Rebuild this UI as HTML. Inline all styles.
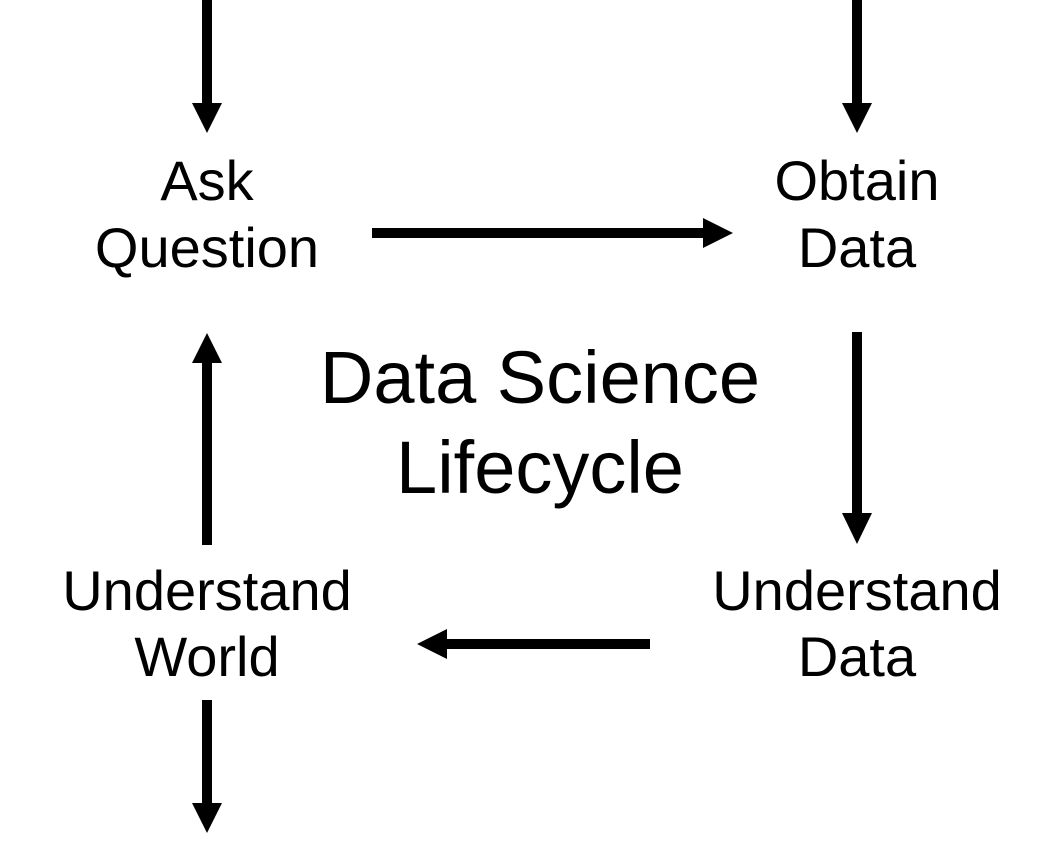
<!DOCTYPE html>
<html><head><style>
html,body{margin:0;padding:0;background:#fff;}
svg{display:block;}
text{font-family:"Liberation Sans",Arial,sans-serif;fill:#000;text-anchor:middle;}
</style></head><body>
<svg width="1062" height="866" viewBox="0 0 1062 866" xmlns="http://www.w3.org/2000/svg">
<g fill="#000">
<rect x="202" y="0" width="10" height="103"/>
<polygon points="192,103 222,103 207,133"/>
<rect x="852" y="0" width="10" height="103"/>
<polygon points="842,103 872,103 857,133"/>
<rect x="372" y="228" width="332" height="10"/>
<polygon points="703,218 733,233 703,248"/>
<rect x="852" y="332" width="10" height="182"/>
<polygon points="842,513 872,513 857,544"/>
<rect x="446" y="639" width="204" height="10"/>
<polygon points="447,629 417,644 447,659"/>
<rect x="202" y="362" width="10" height="183"/>
<polygon points="192,363 222,363 207,333"/>
<rect x="202" y="700" width="10" height="103"/>
<polygon points="192,803 222,803 207,833"/>
</g>
<text x="207" y="200" font-size="56">Ask</text>
<text x="207" y="267" font-size="56">Question</text>
<text x="857" y="200" font-size="56">Obtain</text>
<text x="857" y="267" font-size="56">Data</text>
<text x="207" y="610" font-size="56">Understand</text>
<text x="207" y="676" font-size="56">World</text>
<text x="857" y="610" font-size="56">Understand</text>
<text x="857" y="676" font-size="56">Data</text>
<text x="540" y="403" font-size="74">Data Science</text>
<text x="540" y="493" font-size="74">Lifecycle</text>
</svg>
</body></html>
